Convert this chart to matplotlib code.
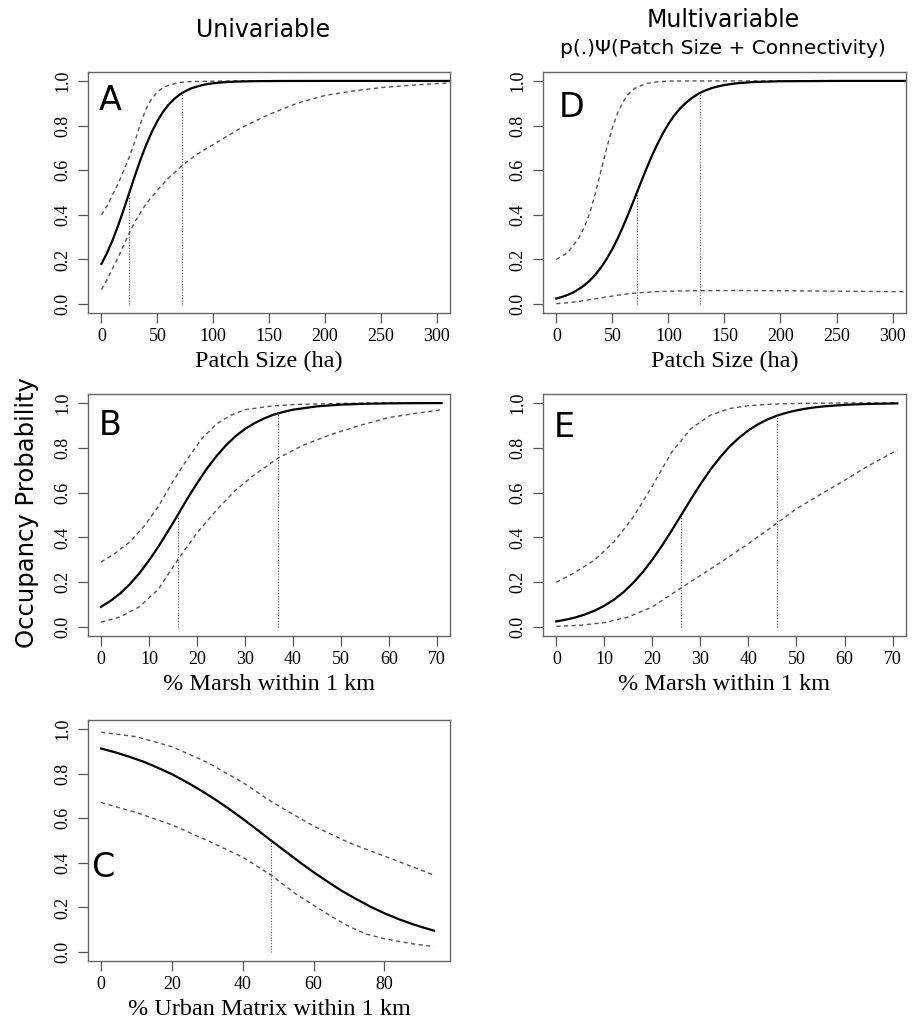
import matplotlib
matplotlib.use("Agg")
import matplotlib.pyplot as plt
from matplotlib.ticker import FormatStrFormatter

# A - univariable patch size
a_fit_x = [0, 5, 10, 15, 20, 25, 30, 35, 40, 45, 50, 55, 60, 65, 70, 75, 80, 85, 90, 95, 100, 110, 120, 140,
           160, 200, 250, 320]
a_fit_y = [0.18, 0.229, 0.287, 0.353, 0.425, 0.50, 0.576, 0.648, 0.713, 0.771, 0.82, 0.861, 0.893, 0.919, 0.939,
           0.954, 0.966, 0.974, 0.981, 0.9859, 0.9896, 0.9943, 0.9969, 0.9991, 0.9997, 1.0, 1.0, 1.0]
a_hi_x = [0, 5, 10, 15, 20, 25, 30, 35, 40, 45, 50, 55, 60, 70, 80, 100, 120, 320]
a_hi_y = [0.40, 0.44, 0.49, 0.54, 0.60, 0.66, 0.73, 0.81, 0.875, 0.92, 0.95, 0.97, 0.98, 0.993, 0.997, 0.999, 1.0, 1.0]
a_lo_x = [0, 5, 10, 15, 20, 25, 30, 40, 50, 60, 72, 85, 100, 125, 150, 175, 200, 225, 250, 275, 300, 320]
a_lo_y = [0.065, 0.11, 0.16, 0.21, 0.265, 0.32, 0.37, 0.45, 0.51, 0.565, 0.62, 0.67, 0.715, 0.79, 0.85, 0.90,
          0.935, 0.955, 0.97, 0.98, 0.988, 0.992]
a_cut_x = [25, 72]
a_cut_y = [0.5, 0.95]

# D - multivariable patch size
d_fit_x = [0, 5, 10, 15, 20, 25, 30, 35, 40, 45, 50, 55, 60, 65, 70, 75, 80, 85, 90, 95, 100, 105, 110, 115,
           120, 125, 130, 135, 140, 145, 150, 160, 175, 200, 250, 320]
d_fit_y = [0.025, 0.032, 0.041, 0.052, 0.067, 0.084, 0.106, 0.133, 0.165, 0.203, 0.247, 0.297, 0.353, 0.413,
           0.476, 0.539, 0.602, 0.661, 0.715, 0.764, 0.807, 0.844, 0.874, 0.899, 0.92, 0.937, 0.951, 0.961,
           0.97, 0.976, 0.9816, 0.9888, 0.9948, 0.9985, 1.0, 1.0]
d_hi_x = [0, 10, 20, 25, 30, 35, 40, 45, 50, 55, 60, 65, 70, 80, 90, 100, 120, 320]
d_hi_y = [0.20, 0.23, 0.295, 0.345, 0.41, 0.50, 0.60, 0.70, 0.79, 0.86, 0.91, 0.945, 0.967, 0.988, 0.996, 0.999,
          1.0, 1.0]
d_lo_x = [0, 10, 20, 30, 40, 50, 60, 72, 90, 110, 128, 160, 200, 250, 300, 320]
d_lo_y = [0.002, 0.006, 0.012, 0.02, 0.028, 0.036, 0.044, 0.05, 0.056, 0.059, 0.06, 0.061, 0.06, 0.058, 0.056, 0.055]
d_cut_x = [72, 128]
d_cut_y = [0.5, 0.95]

# B - univariable % marsh
b_fit_x = [0, 2, 4, 6, 8, 10, 12, 14, 16, 18, 20, 22, 24, 26, 28, 30, 32, 34, 36, 38, 40, 45, 50, 55, 60, 65, 71]
b_fit_y = [0.09, 0.117, 0.15, 0.191, 0.24, 0.297, 0.36, 0.429, 0.5, 0.573, 0.641, 0.705, 0.761, 0.81, 0.851,
           0.884, 0.91, 0.931, 0.948, 0.96, 0.97, 0.985, 0.9928, 0.9965, 0.9983, 0.9992, 0.9997]
b_hi_x = [0, 3, 6, 9, 12, 15, 18, 21, 24, 27, 30, 35, 40, 50, 60, 71]
b_hi_y = [0.29, 0.33, 0.38, 0.45, 0.54, 0.65, 0.75, 0.84, 0.905, 0.945, 0.97, 0.985, 0.993, 0.998, 1.0, 1.0]
b_lo_x = [0, 4, 8, 12, 16, 20, 24, 28, 32, 37, 42, 48, 54, 60, 66, 71]
b_lo_y = [0.022, 0.045, 0.09, 0.17, 0.30, 0.42, 0.52, 0.61, 0.68, 0.755, 0.81, 0.86, 0.90, 0.935, 0.955, 0.97]
b_cut_x = [16, 37]
b_cut_y = [0.5, 0.955]

# E - multivariable % marsh
e_fit_x = [0, 2, 4, 6, 8, 10, 12, 14, 16, 18, 20, 22, 24, 26, 28, 30, 32, 34, 36, 38, 40, 42, 44, 46, 48, 50,
           52, 54, 56, 60, 65, 71]
e_fit_y = [0.025, 0.033, 0.043, 0.0565, 0.0735, 0.095, 0.122, 0.156, 0.197, 0.245, 0.301, 0.363, 0.43, 0.5,
           0.57, 0.637, 0.70, 0.755, 0.804, 0.844, 0.878, 0.905, 0.927, 0.944, 0.957, 0.967, 0.975, 0.981,
           0.9855, 0.9918, 0.9959, 0.9982]
e_hi_x = [0, 4, 8, 12, 16, 20, 24, 28, 32, 36, 40, 45, 50, 60, 71]
e_hi_y = [0.20, 0.245, 0.30, 0.38, 0.49, 0.63, 0.78, 0.885, 0.945, 0.975, 0.988, 0.995, 0.998, 1.0, 1.0]
e_lo_x = [0, 5, 10, 15, 20, 26, 30, 35, 40, 46, 50, 55, 60, 65, 71]
e_lo_y = [0.003, 0.008, 0.02, 0.045, 0.09, 0.175, 0.23, 0.30, 0.372, 0.465, 0.528, 0.592, 0.655, 0.72, 0.79]
e_cut_x = [26, 46]
e_cut_y = [0.5, 0.95]

# C - univariable % urban matrix
c_fit_x = [0, 4, 8, 12, 16, 20, 24, 28, 32, 36, 40, 44, 48, 52, 56, 60, 64, 68, 72, 76, 80, 84, 88, 91, 94]
c_fit_y = [0.912, 0.895, 0.875, 0.853, 0.826, 0.797, 0.763, 0.726, 0.686, 0.643, 0.597, 0.549, 0.5, 0.452,
           0.404, 0.358, 0.315, 0.274, 0.238, 0.204, 0.174, 0.148, 0.125, 0.11, 0.096]
c_hi_x = [0, 10, 20, 30, 40, 48, 55, 60, 70, 80, 90, 94]
c_hi_y = [0.985, 0.965, 0.92, 0.85, 0.76, 0.675, 0.61, 0.565, 0.49, 0.43, 0.37, 0.345]
c_lo_x = [0, 10, 20, 30, 40, 48, 55, 60, 65, 70, 75, 80, 88, 94]
c_lo_y = [0.67, 0.625, 0.57, 0.50, 0.425, 0.345, 0.26, 0.21, 0.16, 0.115, 0.08, 0.06, 0.037, 0.025]
c_cut_x = [48]
c_cut_y = [0.5]

y_ticks = [0, 0.2, 0.4, 0.6, 0.8, 1.0]
patch_ticks = [0, 50, 100, 150, 200, 250, 300]
marsh_ticks = [0, 10, 20, 30, 40, 50, 60, 70]
urban_ticks = [0, 20, 40, 60, 80]

SERIF = "Liberation Serif"
SANS = "DejaVu Sans"
plt.rcParams["font.family"] = SANS


def panel(fig, rect, fit, hi, lo, cut, xlim, xticks, xlabel, letter, lpos, lva="top"):
    ax = fig.add_axes(rect)
    ax.plot(*hi, color="#555555", lw=1.0, ls=(0, (3, 2.5)))
    ax.plot(*lo, color="#555555", lw=1.0, ls=(0, (3, 2.5)))
    ax.plot(*fit, color="black", lw=1.6)
    ax.vlines(cut[0], 0, cut[1], color="#555555", lw=0.8, linestyles=(0, (1, 1.5)))
    ax.set_xlim(*xlim)
    ax.set_ylim(-0.04, 1.04)
    ax.set_xticks(xticks)
    ax.set_yticks(y_ticks)
    ax.yaxis.set_major_formatter(FormatStrFormatter("%.1f"))
    ax.tick_params(length=7, width=0.9, color="#555555", labelsize=13, labelfontfamily=SERIF)
    ax.tick_params(axis="x", pad=4)
    ax.tick_params(axis="y", pad=5, labelrotation=90)
    for lab in ax.get_yticklabels():
        lab.set_va("center")
    for s in ax.spines.values():
        s.set_color("#666666")
        s.set_linewidth(1.0)
    ax.set_xlabel(xlabel, fontsize=17.5, family=SERIF, labelpad=4)
    ax.text(lpos[0], lpos[1], letter, transform=ax.transAxes, fontsize=24, ha="left", va=lva)
    return ax


fig = plt.figure(figsize=(9.17, 10.24), dpi=100)
panel(fig, [0.096, 0.6943, 0.395, 0.2354], (a_fit_x, a_fit_y), (a_hi_x, a_hi_y), (a_lo_x, a_lo_y),
      (a_cut_x, a_cut_y), (-12, 312), patch_ticks, "Patch Size (ha)", "A", (0.03, 0.95))
panel(fig, [0.592, 0.6943, 0.396, 0.2354], (d_fit_x, d_fit_y), (d_hi_x, d_hi_y), (d_lo_x, d_lo_y),
      (d_cut_x, d_cut_y), (-12, 312), patch_ticks, "Patch Size (ha)", "D", (0.045, 0.92))
panel(fig, [0.096, 0.3789, 0.395, 0.2363], (b_fit_x, b_fit_y), (b_hi_x, b_hi_y), (b_lo_x, b_lo_y),
      (b_cut_x, b_cut_y), (-2.7, 72.8), marsh_ticks, "% Marsh within 1 km", "B", (0.03, 0.94))
panel(fig, [0.592, 0.3789, 0.396, 0.2363], (e_fit_x, e_fit_y), (e_hi_x, e_hi_y), (e_lo_x, e_lo_y),
      (e_cut_x, e_cut_y), (-2.8, 72.8), marsh_ticks, "% Marsh within 1 km", "E", (0.03, 0.93))
panel(fig, [0.096, 0.0615, 0.395, 0.2354], (c_fit_x, c_fit_y), (c_hi_x, c_hi_y), (c_lo_x, c_lo_y),
      (c_cut_x, c_cut_y), (-3.7, 98.6), urban_ticks, "% Urban Matrix within 1 km", "C", (0.008, 0.39), "center")

fig.text(263 / 917, 1 - 30 / 1024, "Univariable", fontsize=17, ha="center", va="center")
fig.text(723 / 917, 1 - 20 / 1024, "Multivariable", fontsize=17, ha="center", va="center")
fig.text(723 / 917, 1 - 49 / 1024, "p(.)\u03a8(Patch Size + Connectivity)", fontsize=14.5, ha="center", va="center")
fig.text(27 / 917, 1 - 513 / 1024, "Occupancy Probability", fontsize=17.5, rotation=90, ha="center", va="center")

fig.savefig("out.png", dpi=100)
